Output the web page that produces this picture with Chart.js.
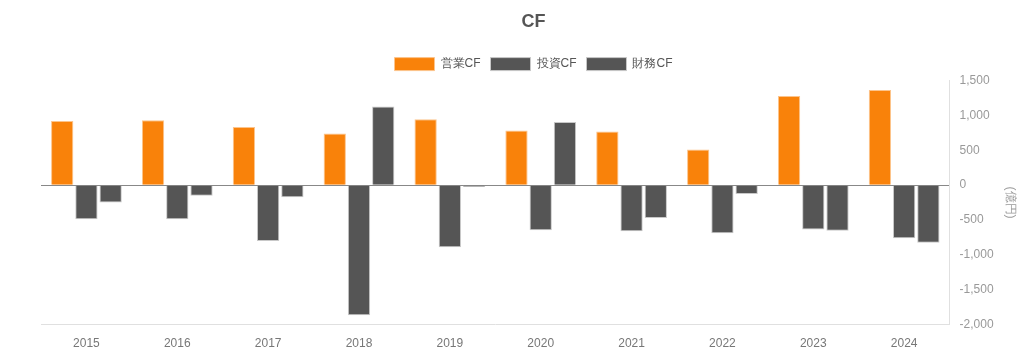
<!DOCTYPE html>
<html><head><meta charset="utf-8">
<script src="https://cdn.jsdelivr.net/npm/chart.js@4"></script>
<style>html,body{margin:0;padding:0;background:#fff}#w{width:1024px;height:355px}</style>
</head><body><div id="w"><canvas id="c"></canvas></div>
<script>
const categories = ['2015','2016','2017','2018','2019','2020','2021','2022','2023','2024'];
const operatingCF = [920, 930, 835, 740, 945, 785, 770, 510, 1280, 1365];
const investingCF = [-490, -490, -800, -1865, -890, -645, -660, -690, -635, -760];
const financingCF = [-250, -150, -175, 1130, -25, 905, -470, -125, -655, -825];
const seriesNames = ['営業CF', '投資CF', '財務CF'];
const yTicks = [-2000, -1500, -1000, -500, 0, 500, 1000, 1500];

const font = "'Liberation Sans', Arial, sans-serif";
Chart.defaults.font.family = font;
new Chart(document.getElementById('c'), {
  type: 'bar',
  data: {
    labels: categories,
    datasets: [
      {label: seriesNames[0], data: operatingCF, backgroundColor: '#F9820A', borderColor: '#FCC48C', borderWidth: 1},
      {label: seriesNames[1], data: investingCF, backgroundColor: '#555555', borderColor: '#C8C8C8', borderWidth: 1},
      {label: seriesNames[2], data: financingCF, backgroundColor: '#555555', borderColor: '#C8C8C8', borderWidth: 1}
    ]
  },
  options: {
    responsive: true, maintainAspectRatio: false, animation: false,
    layout: {padding: {left: 41, right: -2, top: 5, bottom: -8}},
    datasets: {bar: {categoryPercentage: 0.8, barPercentage: 0.92}},
    plugins: {
      title: {display: true, text: 'CF', color: '#555', font: {size: 18, weight: 'bold', family: font}, padding: {top: 6, bottom: 15}},
      legend: {labels: {color: '#555', boxWidth: 40, boxHeight: 13, font: {size: 12}, padding: 10}},
      tooltip: {enabled: false}
    },
    scales: {
      x: {
        grid: {display: false, drawTicks: false},
        border: {display: true, color: '#E0E0E0'},
        ticks: {color: '#777', font: {size: 12}, padding: 12}
      },
      y: {
        position: 'right', min: -2000, max: 1500,
        afterBuildTicks: s => { s.ticks = yTicks.map(v => ({value: v})); },
        grid: {drawTicks: false, color: c => c.tick && c.tick.value === 0 ? '#888' : 'rgba(0,0,0,0)', lineWidth: 1},
        border: {display: true, color: '#E0E0E0'},
        ticks: {color: '#999', font: {size: 12}, padding: 10, callback: v => v.toLocaleString('en-US')},
        title: {display: true, text: '(億円)', color: '#999', font: {size: 12}, padding: {top: 8, bottom: 0}}
      }
    }
  }
});
</script></body></html>
